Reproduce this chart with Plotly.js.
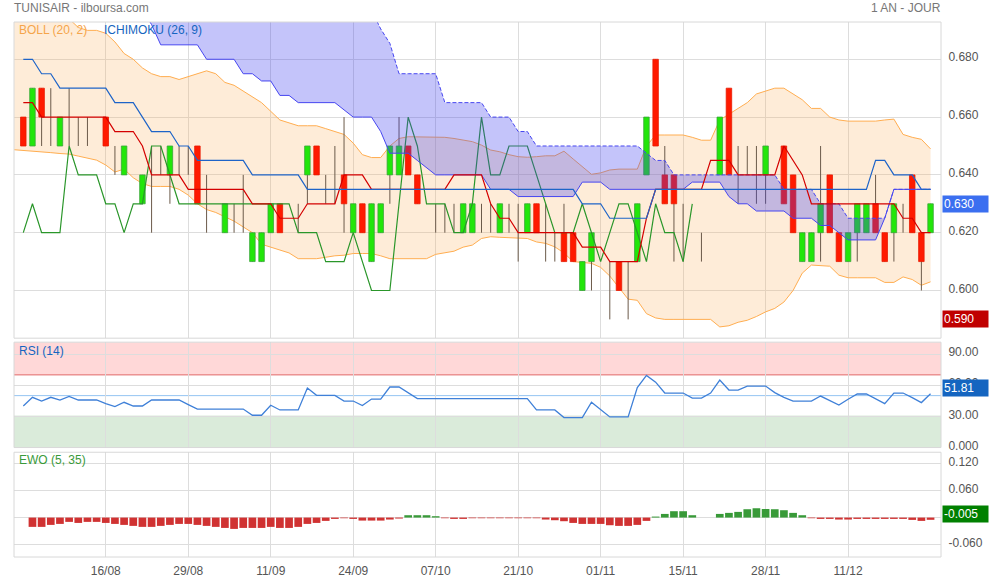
<!DOCTYPE html>
<html>
<head>
<meta charset="utf-8">
<script src="https://cdn.plot.ly/plotly-3.0.1.min.js"></script>
<style>html,body{margin:0;padding:0;background:#fff}#chart{width:990px;height:580px}</style>
</head>
<body>
<div id="chart"></div>
<script>
// ---------- DATA ----------
const tickIdx = [9, 18, 27, 36, 45, 54, 63, 72, 81, 90];
const tickLabels = ['16/08', '29/08', '11/09', '24/09', '07/10', '21/10', '01/11', '15/11', '28/11', '11/12'];

const openP = [0.66,0.65,0.67,0.66,0.65,0.66,0.66,0.66,null,0.66,
  0.64,0.64,null,0.63,0.63,0.64,0.64,0.64,0.64,0.65,
  0.63,null,0.62,0.62,0.63,0.61,0.61,0.62,0.63,null,
  0.62,0.64,0.65,0.64,0.64,0.64,0.62,0.63,0.61,0.62,
  0.64,0.64,0.65,0.64,null,0.63,0.63,0.63,0.62,0.62,
  0.63,0.63,0.62,0.63,0.63,0.62,0.63,0.62,0.62,0.62,
  0.62,0.60,0.61,null,0.60,0.61,0.60,0.61,0.64,0.68,
  0.64,0.64,0.63,null,0.62,null,0.64,0.67,0.64,0.65,
  0.65,0.64,null,0.65,0.64,0.61,0.61,0.62,0.64,0.62,
  0.61,0.62,0.62,0.63,0.62,0.62,0.62,0.64,0.62,0.62];
const highP = [0.66,0.67,0.67,0.67,0.66,0.67,0.66,0.66,null,0.66,
  0.65,0.65,null,0.64,0.65,0.65,0.65,0.65,0.65,0.65,
  0.64,null,0.63,0.63,0.64,0.62,0.62,0.63,0.63,null,
  0.63,0.65,0.65,0.64,0.65,0.66,0.63,0.63,0.63,0.63,
  0.65,0.66,0.65,0.64,null,0.63,0.63,0.63,0.63,0.63,
  0.63,0.63,0.63,0.63,0.63,0.63,0.63,0.63,0.62,0.63,
  0.62,0.61,0.62,null,0.61,0.61,0.61,0.63,0.66,0.68,
  0.65,0.64,0.63,null,0.62,null,0.66,0.67,0.65,0.65,
  0.65,0.65,null,0.65,0.64,0.62,0.62,0.65,0.64,0.62,
  0.62,0.63,0.63,0.64,0.62,0.63,0.63,0.64,0.62,0.63];
const lowP = [0.65,0.65,0.65,0.65,0.65,0.65,0.65,0.65,null,0.65,
  0.64,0.64,null,0.63,0.62,0.64,0.63,0.64,0.64,0.63,
  0.62,null,0.62,0.62,0.62,0.61,0.61,0.62,0.62,null,
  0.62,0.63,0.64,0.63,0.63,0.62,0.62,0.62,0.61,0.62,
  0.63,0.64,0.64,0.63,null,0.62,0.62,0.62,0.62,0.62,
  0.62,0.62,0.62,0.62,0.61,0.62,0.62,0.61,0.61,0.61,
  0.61,0.60,0.60,null,0.59,0.60,0.59,0.61,0.64,0.65,
  0.63,0.61,0.61,null,0.61,null,0.64,0.64,0.63,0.64,
  0.63,0.63,null,0.63,0.62,0.61,0.61,0.61,0.62,0.61,
  0.61,0.61,0.62,0.62,0.61,0.61,0.62,0.62,0.60,0.62];
const closeP = [0.65,0.67,0.66,0.66,0.66,0.66,0.66,0.66,null,0.65,
  0.64,0.65,null,0.64,0.63,0.64,0.65,0.64,0.64,0.63,
  0.63,null,0.63,0.62,0.63,0.62,0.62,0.63,0.62,null,
  0.62,0.65,0.64,0.64,0.64,0.63,0.63,0.62,0.63,0.63,
  0.65,0.65,0.64,0.63,null,0.63,0.63,0.63,0.63,0.63,
  0.63,0.63,0.63,0.63,0.63,0.63,0.62,0.62,0.62,0.61,
  0.61,0.61,0.62,null,0.60,0.60,0.60,0.63,0.66,0.65,
  0.63,0.63,0.63,null,0.62,null,0.66,0.64,0.64,0.65,
  0.65,0.65,null,0.63,0.62,0.62,0.62,0.63,0.62,0.61,
  0.62,0.63,0.63,0.62,0.61,0.63,0.62,0.62,0.61,0.63];

// Bollinger bands: first value sits one session before the first candle
const bollUpper = [0.708,
  0.706,0.704,0.702,0.699,0.697,0.694,0.691,0.690,0.690,0.689,
  0.686,0.682,0.680,0.677,0.675,0.674,0.674,0.673,0.674,0.675,
  0.676,0.675,0.672,0.671,0.669,0.667,0.665,0.662,0.659,0.658,
  0.657,0.657,0.657,0.656,0.655,0.654,0.651,0.647,0.646,0.646,
  0.650,0.6526,0.6532,0.6532,0.6532,0.6532,0.653,0.6526,0.652,0.6515,
  0.6503,0.6486,0.648,0.647,0.6463,0.6461,0.6463,0.6466,0.6466,0.6482,
  0.6455,0.6428,0.6402,0.6407,0.6417,0.642,0.642,0.642,0.650,0.6538,
  0.6538,0.6538,0.6538,0.653,0.652,0.652,0.659,0.661,0.663,0.665,
  0.668,0.669,0.670,0.670,0.668,0.666,0.663,0.663,0.660,0.659,
  0.6586,0.6586,0.6586,0.6586,0.659,0.6593,0.654,0.653,0.6523,0.649];
const bollLower = [0.6487,
  0.6485,0.6483,0.648,0.6477,0.6474,0.6472,0.6465,0.6458,0.6451,0.6434,
  0.641,0.642,0.639,0.637,0.636,0.636,0.636,0.635,0.633,0.630,
  0.628,0.627,0.6255,0.624,0.622,0.620,0.616,0.615,0.614,0.613,
  0.611,0.611,0.611,0.6115,0.612,0.6122,0.6128,0.6128,0.6128,0.612,
  0.611,0.611,0.611,0.611,0.611,0.6125,0.613,0.6136,0.615,0.6157,
  0.618,0.6186,0.6184,0.6182,0.618,0.618,0.6168,0.6163,0.6151,0.613,
  0.610,0.6097,0.6094,0.608,0.605,0.601,0.597,0.5966,0.592,0.5905,
  0.590,0.590,0.590,0.590,0.590,0.590,0.5874,0.5878,0.589,0.5897,
  0.591,0.5926,0.5938,0.596,0.600,0.606,0.6088,0.6087,0.6084,0.6053,
  0.6044,0.6044,0.6044,0.6044,0.6028,0.6028,0.6047,0.6038,0.6018,0.603];

// Ichimoku (26, 9)
const tenkan = [0.665,0.665,0.66,0.66,0.66,0.66,0.66,0.66,0.66,0.66,
  0.655,0.655,0.655,0.65,0.64,0.64,0.64,0.64,0.635,0.635,
  0.635,0.635,0.635,0.635,0.635,0.63,0.63,0.63,0.625,0.625,
  0.625,0.63,0.63,0.63,0.63,0.64,0.64,0.64,0.635,0.635,
  0.635,0.635,0.635,0.635,0.635,0.635,0.635,0.64,0.64,0.64,
  0.64,0.63,0.625,0.625,0.62,0.62,0.62,0.62,0.62,0.62,
  0.62,0.615,0.615,0.615,0.61,0.61,0.61,0.61,0.625,0.635,
  0.635,0.635,0.635,0.635,0.635,0.645,0.645,0.645,0.64,0.64,
  0.64,0.64,0.64,0.65,0.645,0.64,0.63,0.63,0.63,0.63,
  0.63,0.63,0.63,0.63,0.63,0.63,0.625,0.625,0.62,0.62];
const kijun = [0.68,0.68,0.675,0.675,0.67,0.67,0.67,0.67,0.67,0.67,
  0.665,0.665,0.665,0.66,0.655,0.655,0.655,0.65,0.65,0.645,
  0.645,0.645,0.645,0.645,0.645,0.64,0.64,0.64,0.64,0.64,
  0.64,0.635,0.635,0.635,0.635,0.635,0.635,0.635,0.635,0.635,
  0.635,0.635,0.635,0.635,0.635,0.635,0.635,0.635,0.635,0.635,
  0.635,0.635,0.635,0.635,0.635,0.635,0.635,0.635,0.635,0.635,
  0.635,0.63,0.63,0.63,0.625,0.625,0.625,0.625,0.625,0.635,
  0.635,0.635,0.635,0.635,0.635,0.635,0.635,0.635,0.635,0.635,
  0.635,0.635,0.635,0.635,0.635,0.635,0.635,0.635,0.635,0.635,
  0.635,0.635,0.635,0.645,0.645,0.64,0.64,0.64,0.635,0.635];
const senkouA = [0.705,0.705,0.705,0.705,0.703,0.703,0.703,0.702,0.702,0.701,
  0.701,0.70,0.70,0.697,0.692,0.685,0.685,0.685,0.685,0.685,
  0.68,0.68,0.68,0.68,0.675,0.675,0.6725,0.6725,0.6675,0.6675,
  0.665,0.665,0.665,0.665,0.665,0.6625,0.66,0.66,0.66,0.655,
  0.6475,0.6475,0.6475,0.645,0.6425,0.64,0.64,0.64,0.64,0.64,
  0.64,0.635,0.635,0.635,0.6325,0.6325,0.6325,0.6325,0.6325,0.6325,
  0.6325,0.6375,0.6375,0.6375,0.635,0.635,0.635,0.635,0.635,0.635,
  0.635,0.635,0.635,0.6375,0.6375,0.6375,0.6375,0.6325,0.63,0.63,
  0.6275,0.6275,0.6275,0.6275,0.625,0.625,0.625,0.6225,0.6225,0.62,
  0.6175,0.6175,0.6175,0.6175,0.625,0.635,0.635,0.635,0.635,0.635];
const senkouB = [0.71,0.71,0.71,0.71,0.71,0.71,0.71,0.71,0.71,0.71,
  0.71,0.71,0.71,0.71,0.71,0.71,0.71,0.71,0.71,0.71,
  0.71,0.71,0.71,0.71,0.71,0.71,0.71,0.71,0.71,0.71,
  0.71,0.71,0.71,0.71,0.71,0.71,0.71,0.71,0.697,0.6905,
  0.6855,0.675,0.675,0.675,0.675,0.675,0.665,0.665,0.665,0.665,
  0.665,0.66,0.66,0.66,0.655,0.655,0.65,0.65,0.65,0.65,
  0.65,0.65,0.65,0.65,0.65,0.65,0.65,0.65,0.6475,0.645,
  0.645,0.64,0.64,0.64,0.64,0.64,0.64,0.64,0.64,0.64,
  0.64,0.64,0.64,0.635,0.635,0.635,0.635,0.63,0.63,0.63,
  0.625,0.625,0.625,0.625,0.625,0.635,0.635,0.635,0.635,0.635];
const chikou = [0.62,0.63,0.62,0.62,0.62,0.65,0.64,0.64,0.64,0.63,
  0.63,0.62,0.63,0.63,0.65,0.65,0.64,0.63,0.63,0.63,
  0.63,0.63,0.63,0.63,0.63,0.63,0.63,0.63,0.63,0.63,
  0.62,0.62,0.62,0.61,0.61,0.61,0.62,0.61,0.60,0.60,
  0.60,0.63,0.66,0.65,0.63,0.63,0.63,0.62,0.62,0.63,
  0.66,0.64,0.64,0.65,0.65,0.65,0.64,0.63,0.62,0.62,
  0.62,0.63,0.62,0.61,0.62,0.63,0.63,0.62,0.61,0.63,
  0.62,0.62,0.61,0.63];

// RSI (14)
const rsi = [40.0,48.4,44.8,48.4,45.8,49.3,45.8,45.8,45.8,42.3,
  39.4,43.6,40.0,40.0,45.8,45.8,45.8,45.8,41.4,37.1,
  37.1,37.1,37.1,37.1,37.1,31.1,31.1,40.7,36.2,36.2,
  36.2,57.3,50.3,50.3,50.3,44.8,44.8,40.4,46.7,46.7,
  58.3,58.3,52.5,47.1,47.1,47.1,47.1,47.1,47.1,47.1,
  47.1,47.1,47.1,47.1,47.1,47.1,36.2,36.2,36.2,28.9,
  28.9,28.9,43.6,36.2,29.5,29.5,29.5,57.7,69.5,63.0,
  52.5,52.5,52.5,47.7,47.7,52.5,65.0,55.4,55.4,59.2,
  59.2,59.2,52.9,48.4,44.8,44.8,44.8,49.6,45.3,41.0,
  46.5,51.6,51.6,47.1,42.3,52.5,52.5,48.1,43.3,51.81];

// EWO (5, 35)
const ewo = [null,-0.0207,-0.0207,-0.0163,-0.0141,-0.0096,-0.0119,-0.0096,-0.0096,-0.0119,
  -0.0141,-0.0163,-0.0185,-0.0207,-0.0207,-0.0185,-0.0163,-0.0141,-0.0141,-0.0163,
  -0.0185,-0.0207,-0.0230,-0.0252,-0.0230,-0.0230,-0.0230,-0.0207,-0.0230,-0.0230,
  -0.0207,-0.0141,-0.0119,-0.0074,-0.0030,-0.0015,-0.0030,-0.0067,-0.0067,-0.0067,
  -0.0044,-0.0022,0.0052,0.0052,0.0052,0.0030,-0.0015,-0.0030,-0.0030,-0.0015,
  -0.0015,-0.0015,-0.0015,-0.0015,-0.0015,-0.0015,-0.0015,-0.0044,-0.0059,-0.0081,
  -0.0119,-0.0141,-0.0141,-0.0141,-0.0170,-0.0185,-0.0185,-0.0163,-0.0074,0.0022,
  0.0081,0.0141,0.0141,0.0052,null,null,0.0081,0.0104,0.0126,0.0185,
  0.0207,0.0192,0.0185,0.0163,0.0104,0.0052,-0.0015,-0.0030,-0.0030,-0.0044,
  -0.0044,-0.0030,-0.0030,-0.0030,-0.0030,-0.0030,-0.0030,-0.0052,-0.0074,-0.0050];

// ---------- BUILD ----------
const FONT = 'Liberation Sans, Arial, sans-serif';
const idx = closeP.map((_, i) => i);
const bollIdx = bollUpper.map((_, i) => i - 1);
const chikouIdx = chikou.map((_, i) => i);

// wicks (high-low segments)
const wickX = [], wickY = [];
idx.forEach(i => {
  if (highP[i] == null) return;
  wickX.push(i, i, null);
  wickY.push(lowP[i], highP[i], null);
});
// bodies as closed polygons
const HW = 0.3;
function bodies(up) {
  const xs = [], ys = [];
  idx.forEach(i => {
    const o = openP[i], c = closeP[i];
    if (o == null || c == null || o === c) return;
    if ((c > o) !== up) return;
    xs.push(i - HW, i + HW, i + HW, i - HW, i - HW, null);
    ys.push(o, o, c, c, o, null);
  });
  return {xs, ys};
}
const upB = bodies(true), dnB = bodies(false);

const traces = [
  {x: bollIdx, y: bollUpper, type: 'scatter', mode: 'lines', line: {color: '#ffad50', width: 1}, xaxis: 'x', yaxis: 'y'},
  {x: bollIdx, y: bollLower, type: 'scatter', mode: 'lines', fill: 'tonexty', fillcolor: 'rgba(250,175,90,0.24)', line: {color: '#ffad50', width: 1}, xaxis: 'x', yaxis: 'y'},
  {x: wickX, y: wickY, type: 'scatter', mode: 'lines', line: {color: '#6b5a4a', width: 1}, connectgaps: false, xaxis: 'x', yaxis: 'y'},
  {x: upB.xs, y: upB.ys, type: 'scatter', mode: 'lines', fill: 'toself', fillcolor: '#22e60a', line: {color: '#3aa63a', width: 0.8}, xaxis: 'x', yaxis: 'y'},
  {x: dnB.xs, y: dnB.ys, type: 'scatter', mode: 'lines', fill: 'toself', fillcolor: '#ff1a00', line: {color: '#e81a00', width: 0.8}, xaxis: 'x', yaxis: 'y'},
  {x: chikouIdx, y: chikou, type: 'scatter', mode: 'lines', line: {color: '#2a962a', width: 1.2}, xaxis: 'x', yaxis: 'y'},
  {x: idx, y: senkouB, type: 'scatter', mode: 'lines', line: {color: '#4646f0', width: 1, dash: '4px,2px'}, xaxis: 'x', yaxis: 'y'},
  {x: idx, y: senkouA, type: 'scatter', mode: 'lines', fill: 'tonexty', fillcolor: 'rgba(64,64,240,0.31)', line: {color: '#4646f0', width: 1}, xaxis: 'x', yaxis: 'y'},
  {x: idx, y: tenkan, type: 'scatter', mode: 'lines', line: {color: '#d40000', width: 1.2}, xaxis: 'x', yaxis: 'y'},
  {x: idx, y: kijun, type: 'scatter', mode: 'lines', line: {color: '#1e64c8', width: 1.2}, xaxis: 'x', yaxis: 'y'},
  {x: idx, y: rsi, type: 'scatter', mode: 'lines', line: {color: '#3f80d8', width: 1.3}, xaxis: 'x', yaxis: 'y2'},
  {x: idx, y: ewo, type: 'bar', width: 0.84, marker: {color: ewo.map(v => v != null && v > 0 ? '#389a38' : '#d03232')}, xaxis: 'x', yaxis: 'y3'}
];

// panel geometry (pixels)
const TOP = 22, BOT = 556.7, PH = BOT - TOP;
const dom = (yt, yb) => [(BOT - yb) / PH, (BOT - yt) / PH];
const dMain = dom(22, 338), dRsi = dom(342, 447.3), dEwo = dom(452, 556.7);

const axisY = {side: 'right', showgrid: true, gridcolor: '#dddddd', zeroline: false, showline: false,
  ticks: 'outside', ticklen: 4, tickcolor: 'rgba(0,0,0,0)', ticklabelshift: -2,
  tickfont: {family: FONT, size: 12, color: '#555'}, fixedrange: true};

const lastClose = closeP[closeP.length - 1];
const minLow = Math.min(...lowP.filter(v => v != null));
const lastRsi = rsi[rsi.length - 1];
const lastEwo = ewo[ewo.length - 1];

const badge = (text, yref, y, bg, yshift) => ({text, xref: 'paper', x: 1, xanchor: 'left', xshift: 1, yref, y, yanchor: 'middle', yshift,
  showarrow: false, bgcolor: bg, font: {family: FONT, size: 12, color: '#fff'}, width: 43, height: 14, borderpad: 1, align: 'left'});
const label = (text, color, x, xshift, y, yshift, anchor) => ({text, xref: 'paper', yref: 'paper', x, y, xanchor: anchor || 'left', yanchor: 'middle',
  xshift, yshift, showarrow: false, font: {family: FONT, size: 12, color}});

const annotations = [
  label('TUNISAIR - ilboursa.com', '#777', 0, -2, 1, 14),
  label('1 AN - JOUR', '#777', 1, 2, 1, 14, 'right'),
  label('BOLL (20, 2)', '#f5a54a', 0, 3, dMain[1], -8),
  label('ICHIMOKU (26, 9)', '#1565c0', 0, 88, dMain[1], -8),
  label('RSI (14)', '#1565c0', 0, 3, dRsi[1], -9),
  label('EWO (5, 35)', '#3a9a3a', 0, 3, dEwo[1], -8),
  badge(lastClose.toFixed(3), 'y', lastClose, '#3b6ff0', 0),
  badge(minLow.toFixed(3), 'y', minLow, '#c00000', 0),
  badge(lastRsi.toFixed(2), 'y2', lastRsi, '#1565c0', 6),
  badge(lastEwo.toFixed(3), 'y3', lastEwo, '#008000', 6)
];

const box = d => ({type: 'rect', xref: 'paper', yref: 'paper', x0: 0, x1: 1, y0: d[0], y1: d[1], line: {color: '#d8d8d8', width: 1}, fillcolor: 'rgba(0,0,0,0)', layer: 'above'});
const shapes = [
  {type: 'rect', xref: 'paper', yref: 'y2', x0: 0, x1: 1, y0: 70, y1: 101.5, fillcolor: 'rgba(255,40,40,0.18)', line: {width: 0}, layer: 'below'},
  {type: 'rect', xref: 'paper', yref: 'y2', x0: 0, x1: 1, y0: 0, y1: 30, fillcolor: 'rgba(60,150,60,0.19)', line: {width: 0}, layer: 'below'},
  {type: 'line', xref: 'paper', yref: 'y2', x0: 0, x1: 1, y0: 70, y1: 70, line: {color: '#e06a6a', width: 1}, layer: 'between'},
  {type: 'line', xref: 'paper', yref: 'y2', x0: 0, x1: 1, y0: 50, y1: 50, line: {color: '#94c4f2', width: 1}, layer: 'between'},
  {type: 'line', xref: 'paper', yref: 'y2', x0: 0, x1: 1, y0: 30, y1: 30, line: {color: '#5a9e5a', width: 1}, layer: 'between'},
  box(dMain), box(dRsi), box(dEwo)
];

const layout = {
  width: 990, height: 580,
  margin: {l: 14, r: 49, t: 22, b: 23.3, pad: 0},
  paper_bgcolor: '#ffffff', plot_bgcolor: 'rgba(0,0,0,0)',
  showlegend: false, hovermode: false, barmode: 'overlay',
  font: {family: FONT, size: 12, color: '#555'},
  xaxis: {range: [-1.014, 100.14], anchor: 'y3', tickvals: tickIdx, ticktext: tickLabels, showgrid: true, gridcolor: '#dddddd',
    zeroline: false, showline: false, ticks: 'outside', ticklen: 3, tickcolor: 'rgba(0,0,0,0)', tickfont: {family: FONT, size: 12, color: '#555'}, fixedrange: true},
  yaxis: Object.assign({}, axisY, {domain: dMain, range: [0.5835, 0.6929], tickvals: [0.60, 0.62, 0.64, 0.66, 0.68], tickformat: '.3f', anchor: 'x'}),
  yaxis2: Object.assign({}, axisY, {domain: dRsi, range: [0, 101.5], tickvals: [0, 30, 60, 90], ticktext: ['0.000', '30.00', '60.00', '90.00'], anchor: 'x'}),
  // the 0.000 label is hidden behind the value badge in the reference
  yaxis3: Object.assign({}, axisY, {domain: dEwo, range: [-0.0876, 0.1451], tickvals: [-0.06, 0, 0.06, 0.12], ticktext: ['-0.060', '', '0.060', '0.120'], anchor: 'x'}),
  annotations, shapes
};

Plotly.newPlot('chart', traces, layout, {staticPlot: true, displayModeBar: false});
</script>
</body>
</html>
